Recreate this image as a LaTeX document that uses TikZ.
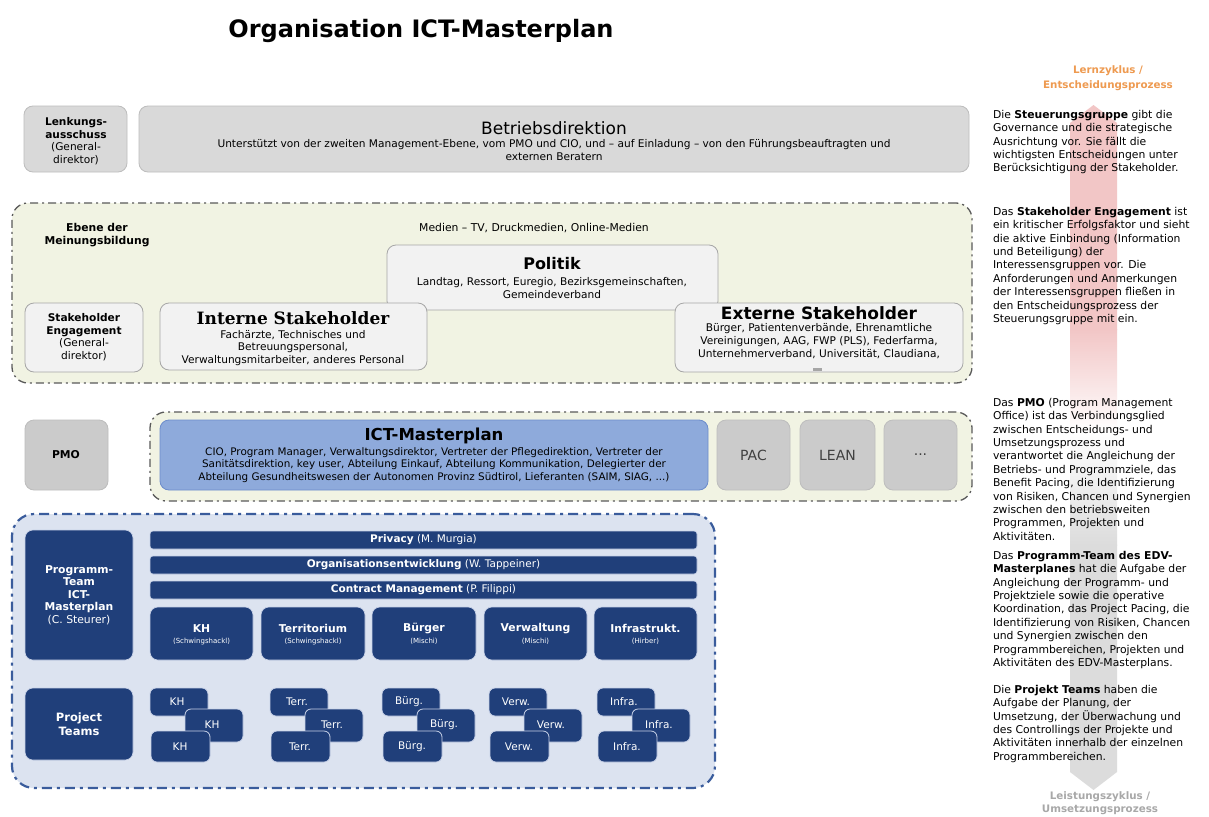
\documentclass[tikz,border=0pt]{standalone}
\usepackage{fontspec}
\setmainfont{DejaVu Sans}
\newfontfamily\dvserif{DejaVu Serif}
\definecolor{gfill}{HTML}{D9D9D9}
\definecolor{gline}{HTML}{BDBDBD}
\definecolor{lfill}{HTML}{F2F2F2}
\definecolor{lline}{HTML}{A6A6A6}
\definecolor{cfill}{HTML}{F1F3E3}
\definecolor{cline}{HTML}{5A5A5A}
\definecolor{pfill}{HTML}{CBCBCB}
\definecolor{ictfill}{HTML}{8EAADB}
\definecolor{ictline}{HTML}{6C8CCB}
\definecolor{bfill}{HTML}{DCE3F0}
\definecolor{bline}{HTML}{3A5C9C}
\definecolor{navy}{HTML}{203F7A}
\definecolor{navyline}{HTML}{C8D2E8}
\definecolor{redA}{HTML}{F2C6C6}
\definecolor{grayA}{HTML}{DCDCDC}
\definecolor{orangeL}{HTML}{EE9A50}
\definecolor{grayL}{HTML}{A8A8A8}
\newcommand\fsz[2]{\fontsize{#1pt}{#2pt}\selectfont}
\newcommand\bx[6]{\node[#6,anchor=north west,minimum width={(#4)-(#2)},minimum height={(#5)-(#3)}] (#1) at (#2,#3) {};}
\begin{document}
\begin{tikzpicture}[x=1pt,y=-1pt,
  every node/.style={inner sep=0pt,outer sep=0pt},
  gbox/.style={draw=gline,fill=gfill,rounded corners=9pt,line width=0.8pt},
  lbox/.style={draw=lline,fill=lfill,rounded corners=9pt,line width=0.8pt},
  pbox/.style={draw=gline,fill=pfill,rounded corners=9pt,line width=0.8pt},
  ictbox/.style={draw=ictline,fill=ictfill,rounded corners=9pt,line width=0.8pt},
  cont/.style={draw=cline,fill=cfill,rounded corners=16pt,line width=1.3pt,dash pattern=on 8pt off 4pt on 2pt off 4pt},
  bcont/.style={draw=bline,fill=bfill,rounded corners=22pt,line width=2.2pt,dash pattern=on 10pt off 5pt on 3pt off 5pt},
  nbox/.style={draw=navyline,fill=navy,rounded corners=8pt,line width=0.6pt},
  nbar/.style={draw=navyline,fill=navy,rounded corners=3pt,line width=0.6pt},
  sbox/.style={draw=navyline,fill=navy,rounded corners=6pt,line width=0.8pt},
  rtxt/.style={anchor=north west,align=left,font=\fsz{10.8}{13.4}},
  small/.style={font=\fsz{10.6}{12.6},align=center},
  wt/.style={text=white,align=center}]
\useasboundingbox (0,0) rectangle (1209,816);
\fill[white] (0,0) rectangle (1209,816);

% title
\node[font=\bfseries\fsz{24}{28}] (title) at (421,31) {Organisation ICT-Masterplan};

% right process arrows
\fill[redA] (1070,123) -- (1093.5,105) -- (1117,123) -- (1117,330) -- (1070,330) -- cycle;
\shade[top color=redA,bottom color=white] (1070,329.5) rectangle (1117,432);
\shade[top color=white,bottom color=grayA] (1070,432) rectangle (1117,545);
\fill[grayA] (1070,544.5) -- (1117,544.5) -- (1117,772) -- (1093.5,790) -- (1070,772) -- cycle;

\node[font=\bfseries\fsz{10.3}{14.5},text=orangeL,align=center] (lern) at (1108,78) {Lernzyklus /\\Entscheidungsprozess};
\node[font=\bfseries\fsz{10.3}{13},text=grayL,align=center] (leist) at (1100,803) {Leistungszyklus /\\Umsetzungsprozess};

\node[rtxt] (t1) at (993,110) {Die \textbf{Steuerungsgruppe} gibt die\\Governance und die strategische\\Ausrichtung vor. Sie fällt die\\wichtigsten Entscheidungen unter\\Berücksichtigung der Stakeholder.};
\node[rtxt] (t2) at (993,207) {Das \textbf{Stakeholder Engagement} ist\\ein kritischer Erfolgsfaktor und sieht\\die aktive Einbindung (Information\\und Beteiligung) der\\Interessensgruppen vor. Die\\Anforderungen und Anmerkungen\\der Interessensgruppen fließen in\\den Entscheidungsprozess der\\Steuerungsgruppe mit ein.};
\node[rtxt] (t3) at (993,398) {Das \textbf{PMO} (Program Management\\Office) ist das Verbindungsglied\\zwischen Entscheidungs- und\\Umsetzungsprozess und\\verantwortet die Angleichung der\\Betriebs- und Programmziele, das\\Benefit Pacing, die Identifizierung\\von Risiken, Chancen und Synergien\\zwischen den betriebsweiten\\Programmen, Projekten und\\Aktivitäten.};
\node[rtxt] (t4) at (993,551) {Das \textbf{Programm-Team des EDV-}\\\textbf{Masterplanes} hat die Aufgabe der\\Angleichung der Programm- und\\Projektziele sowie die operative\\Koordination, das Project Pacing, die\\Identifizierung von Risiken, Chancen\\und Synergien zwischen den\\Programmbereichen, Projekten und\\Aktivitäten des EDV-Masterplans.};
\node[rtxt] (t5) at (993,685) {Die \textbf{Projekt Teams} haben die\\Aufgabe der Planung, der\\Umsetzung, der Überwachung und\\des Controllings der Projekte und\\Aktivitäten innerhalb der einzelnen\\Programmbereichen.};

% row 1
\bx{lenk}{24}{106}{127}{172}{gbox}
\node[small] (lenkt) at (76,141) {\textbf{Lenkungs-}\\\textbf{ausschuss}\\(General-\\direktor)};
\bx{betr}{139}{106}{969}{172}{gbox}
\node[font=\fsz{17}{19}] (betrt) at (554,128) {Betriebsdirektion};
\node[small] (betrs) at (554,150) {Unterstützt von der zweiten Management-Ebene, vom PMO und CIO, und – auf Einladung – von den Führungsbeauftragten und\\externen Beratern};

% row 2
\bx{meinung}{12}{203}{972}{383}{cont}
\node[font=\bfseries\fsz{10.8}{12.8},align=center] (ebene) at (97,235) {Ebene der\\Meinungsbildung};
\node[font=\fsz{10.8}{12.5}] (medien) at (534,228) {Medien – TV, Druckmedien, Online-Medien};
\bx{pol}{387}{245}{718}{310}{lbox}
\node[font=\bfseries\fsz{16}{18}] (polt) at (552,264) {Politik};
\node[small] (pols) at (552,288) {Landtag, Ressort, Euregio, Bezirksgemeinschaften,\\Gemeindeverband};
\bx{stake}{25}{303}{143}{372}{lbox}
\node[small] (staket) at (84,337) {\textbf{Stakeholder}\\\textbf{Engagement}\\(General-\\direktor)};
\bx{intern}{160}{303}{427}{370}{lbox}
\node[font=\dvserif\bfseries\fsz{17}{19}] (internt) at (293,318) {Interne Stakeholder};
\node[small] (interns) at (293,348) {Fachärzte, Technisches und\\Betreuungspersonal,\\Verwaltungsmitarbeiter, anderes Personal};
\bx{extern}{675}{303}{963}{372}{lbox}
\node[font=\bfseries\fsz{17}{19}] (externt) at (819,313) {Externe Stakeholder};
\node[small] (externs) at (819,341) {Bürger, Patientenverbände, Ehrenamtliche\\Vereinigungen, AAG, FWP (PLS), Federfarma,\\Unternehmerverband, Universität, Claudiana,};
\fill[lline] (813,368) rectangle (822,371);

% row 3
\bx{pmo}{25}{420}{108}{490}{pbox}
\node[font=\bfseries\fsz{10.8}{12}] (pmot) at (66,455) {PMO};
\bx{prog}{150}{412}{972}{501}{cont}
\bx{ict}{160}{420}{708}{490}{ictbox}
\node[font=\bfseries\fsz{16.5}{18}] (ictt) at (434,436) {ICT-Masterplan};
\node[font=\fsz{10.4}{12.2},align=center] (icts) at (434,465) {CIO, Program Manager, Verwaltungsdirektor, Vertreter der Pflegedirektion, Vertreter der\\Sanitätsdirektion, key user, Abteilung Einkauf, Abteilung Kommunikation, Delegierter der\\Abteilung Gesundheitswesen der Autonomen Provinz Südtirol, Lieferanten (SAIM, SIAG, ...)};
\bx{pac}{717}{420}{790}{490}{pbox}
\node[font=\fsz{14}{16},text=black!75] (pact) at (753.5,455) {PAC};
\bx{lean}{800}{420}{875}{490}{pbox}
\node[font=\fsz{14}{16},text=black!75] (leant) at (837.5,455) {LEAN};
\bx{dots}{884}{420}{957}{490}{pbox}
\node[font=\fsz{14}{16},text=black!75] (dotst) at (920.5,455) {...};

% row 4
\bx{team}{12}{514}{715}{788}{bcont}
\bx{progteam}{25}{530}{133}{660}{nbox}
\node[wt,font=\fsz{10.8}{12.5}] (progteamt) at (79,595) {\textbf{Programm-}\\\textbf{Team}\\\textbf{ICT-}\\\textbf{Masterplan}\\(C. Steurer)};
\bx{privacy}{150}{531}{697}{549}{nbar}
\node[wt,font=\fsz{10.5}{12}] (privacyt) at (423.5,540) {\textbf{Privacy} (M. Murgia)};
\bx{orga}{150}{556}{697}{574}{nbar}
\node[wt,font=\fsz{10.5}{12}] (orgat) at (423.5,565) {\textbf{Organisationsentwicklung} (W. Tappeiner)};
\bx{contract}{150}{581}{697}{599}{nbar}
\node[wt,font=\fsz{10.5}{12}] (contractt) at (423.5,590) {\textbf{Contract Management} (P. Filippi)};

\bx{kh}{150}{607}{253}{660}{nbox}
\bx{terr}{261}{607}{365}{660}{nbox}
\bx{buerger}{372}{607}{476}{660}{nbox}
\bx{verw}{484}{607}{587}{660}{nbox}
\bx{infra}{594}{607}{697}{660}{nbox}
\foreach \n/\t/\s in {kh/KH/Schwingshackl,terr/Territorium/Schwingshackl,buerger/Bürger/Mischi,verw/Verwaltung/Mischi,infra/Infrastrukt./Hirber}{
  \node[wt,font=\bfseries\fsz{10.8}{12},yshift=5pt] (\n t) at (\n.center) {\t};
  \node[wt,font=\fsz{7}{8},yshift=-8pt] (\n s) at (\n.center) {(\s)};
}

\bx{projteams}{25}{688}{133}{760}{nbox}
\node[wt,font=\bfseries\fsz{11.5}{13.5}] (projteamst) at (79,724) {Project\\Teams};

\foreach \x/\l [count=\i] in {150/KH,270/Terr.,382/Bürg.,489/Verw.,597/Infra.}{
  \bx{g\i a}{\x}{688}{\x+58}{716}{sbox}
  \node[wt,font=\fsz{10.5}{12}] (g\i at) at (\x+27,702) {\l};
  \bx{g\i b}{\x+35}{709}{\x+93}{742}{sbox}
  \node[wt,font=\fsz{10.5}{12}] (g\i bt) at (\x+62,725) {\l};
  \bx{g\i c}{\x+1}{731}{\x+60}{762}{sbox}
  \node[wt,font=\fsz{10.5}{12}] (g\i ct) at (\x+30,747) {\l};
}
\end{tikzpicture}
\end{document}
